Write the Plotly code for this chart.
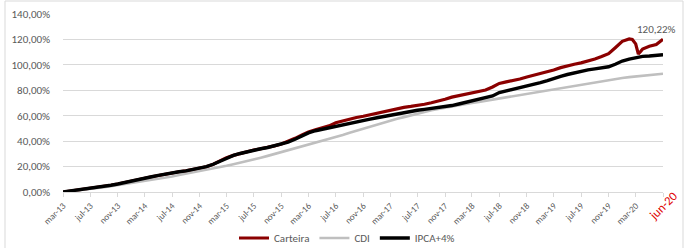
import pandas as pd
import plotly.graph_objects as go

# ---------------- data (cumulative return, %) ----------------
dates = pd.date_range("2013-03-01", "2020-07-01", freq="MS")  # 89 monthly points

carteira = [0, 0.7, 1.4, 2.1, 2.9, 3.6, 4.4, 5.3, 6.3, 7.3, 8.4, 9.6, 10.8, 12.0, 13.1, 14.2,
            15.2, 15.9, 16.6, 17.5, 18.6, 19.9, 21.8, 24.3, 27.0, 28.8, 30.3, 31.7, 33.0, 34.0,
            35.0, 36.3, 37.8, 39.7, 42.2, 44.8, 47.2, 49.0, 50.5, 52.0, 54.5, 56.0, 57.3, 58.6,
            59.6, 60.8, 62.0, 63.3, 64.6, 65.6, 66.6, 67.3, 68.0, 69.0, 70.2, 71.3, 73.0, 74.6,
            75.8, 76.8, 77.8, 78.8, 80.2, 82.6, 85.4, 86.6, 87.6, 88.9, 90.5, 91.8, 93.2, 94.5,
            96.0, 97.8, 99.4, 100.5, 101.6, 103.0, 104.6, 106.5, 108.8, 113.5, 118.5, 120.4,
            116.5, 112.5, 114.6, 116.0, 120.22]
# extra readings of the March-2020 drawdown
crash_dates = ["2020-02-15", "2020-03-06", "2020-03-13", "2020-03-23"]
crash_values = [120.0, 112.5, 108.5, 110.5]

cdi = [0, 0.54, 1.14, 1.73, 2.33, 3.06, 3.78, 4.51, 5.35, 6.10, 6.93, 7.83, 8.67, 9.50, 10.39,
       11.34, 12.25, 13.31, 14.28, 15.31, 16.39, 17.37, 18.49, 19.59, 20.57, 21.82, 22.98, 24.19,
       25.52, 27.00, 28.41, 29.84, 31.28, 32.67, 34.21, 35.62, 36.98, 38.57, 40.03, 41.58, 43.22,
       44.81, 46.56, 48.19, 49.75, 51.31, 53.00, 54.67, 56.00, 57.64, 58.89, 60.37, 61.67, 62.96,
       64.26, 65.31, 66.37, 67.32, 68.22, 69.20, 69.98, 70.88, 71.77, 72.66, 73.56, 74.50, 75.49,
       76.31, 77.26, 78.13, 79.00, 79.97, 80.85, 81.70, 82.64, 83.63, 84.49, 85.54, 86.47, 87.33,
       88.23, 88.95, 89.65, 90.37, 90.92, 91.57, 92.11, 92.57, 92.97]

ipca4 = [0, 0.7, 1.4, 2.1, 2.9, 3.6, 4.4, 5.3, 6.3, 7.3, 8.4, 9.6, 10.8, 12.0, 13.1, 14.2, 15.2,
         15.9, 16.6, 17.5, 18.6, 19.9, 21.8, 24.3, 27.0, 28.8, 30.3, 31.7, 33.0, 34.0, 35.0, 36.2,
         37.5, 39.3, 41.5, 44.0, 46.5, 48.2, 49.4, 50.5, 51.8, 53.0, 54.1, 55.2, 56.2, 57.3, 58.4,
         59.5, 60.5, 61.5, 62.6, 63.5, 64.3, 65.0, 65.8, 66.3, 66.9, 68.0, 69.2, 70.4, 71.5, 72.5,
         73.7, 75.5, 78.2, 79.5, 80.4, 81.7, 83.2, 84.6, 86.0, 87.6, 89.4, 91.0, 92.4, 93.8, 95.0,
         96.0, 96.8, 97.6, 98.5, 100.5, 103.0, 104.5, 105.7, 106.7, 107.0, 107.3, 107.9]

pt_months = {1: "jan", 2: "fev", 3: "mar", 4: "abr", 5: "mai", 6: "jun",
             7: "jul", 8: "ago", 9: "set", 10: "out", 11: "nov", 12: "dez"}
tick_dates = list(pd.date_range("2013-03-01", "2020-03-01", freq="4MS"))
tick_labels = [f"{pt_months[d.month]}-{d.strftime('%y')}" for d in tick_dates]
end_label = "jun-20"

# ---------------- figure ----------------
cart = pd.Series(carteira, index=dates)
cart = pd.concat([cart, pd.Series(crash_values, index=pd.to_datetime(crash_dates))]).sort_index()

fig = go.Figure()
fig.add_trace(go.Scatter(x=cart.index, y=cart.values, name="Carteira", mode="lines",
                         line=dict(color="#8B0000", width=3.2)))
fig.add_trace(go.Scatter(x=dates, y=cdi, name="CDI", mode="lines",
                         line=dict(color="#BFBFBF", width=2.6)))
fig.add_trace(go.Scatter(x=dates, y=ipca4, name="IPCA+4%", mode="lines",
                         line=dict(color="#000000", width=3.4)))

L, R, T, B = 63, 35, 14, 56
W, H = 698, 248
pw, ph = W - L - R, H - T - B

def px_x(p):
    return (p - L) / pw

def px_y(p):
    return (H - B - p) / ph

fig.update_layout(
    width=W, height=H,
    margin=dict(l=L, r=R, t=T, b=B, autoexpand=False),
    paper_bgcolor="white", plot_bgcolor="white",
    separators=",.",
    font=dict(family="Carlito, Lato, Liberation Sans, sans-serif", color="#595959", size=10),
    showlegend=True,
    legend=dict(orientation="h", x=px_x(347), xanchor="center", y=px_y(238), yanchor="middle",
                font=dict(size=11, color="#595959"), itemwidth=30, traceorder="normal",
                bgcolor="rgba(0,0,0,0)"),
    xaxis=dict(type="date", range=[dates[0], dates[-1]], automargin=False,
               tickvals=tick_dates + [dates[-1]], ticktext=tick_labels + [""],
               tickangle=-45, tickfont=dict(size=9, color="#595959"),
               ticks="outside", ticklen=4, tickcolor="#D9D9D9",
               showline=True, linecolor="#D9D9D9", linewidth=1,
               showgrid=False, zeroline=False),
    yaxis=dict(range=[0, 140], dtick=20, tickformat=".2f", ticksuffix="%", automargin=False,
               tickfont=dict(size=11, color="#595959"),
               showgrid=True, gridcolor="#D9D9D9", gridwidth=1,
               zeroline=False, showline=False, ticks="", ticklabelstandoff=12),
    hovermode=False,
)

# value label at the last point
last_val = carteira[-1]
fig.add_annotation(x=dates[-1], y=last_val, xref="x", yref="y",
                   text=f"{last_val:.2f}".replace(".", ",") + "%",
                   showarrow=False, xanchor="center", yanchor="bottom",
                   xshift=-7, yshift=1, font=dict(size=11, color="#595959"))

# red end-date label
fig.add_annotation(x=dates[-1], y=px_y(205.5), xref="x", yref="paper",
                   text=end_label, showarrow=False, textangle=-45,
                   xanchor="center", yanchor="middle",
                   font=dict(size=12.5, color="#E00000"))

# chart-area border
fig.add_shape(type="rect", xref="paper", yref="paper",
              x0=px_x(5), x1=px_x(683), y0=px_y(250), y1=px_y(1),
              line=dict(color="#D9D9D9", width=1), fillcolor="rgba(0,0,0,0)", layer="below")

fig.write_html("out.html", config={"displayModeBar": False},
               post_script="document.body.style.margin='0px';document.body.style.overflow='hidden';")
